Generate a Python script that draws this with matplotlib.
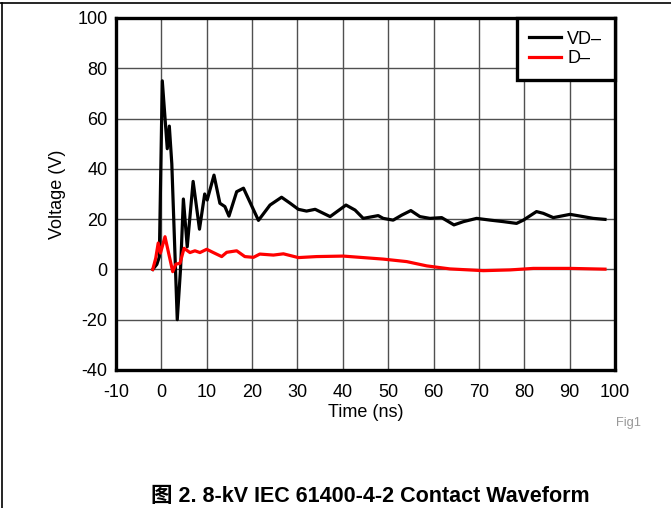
import numpy as np
import matplotlib.pyplot as plt
from matplotlib.lines import Line2D

plt.rcParams['font.family'] = ['Liberation Sans', 'Noto Sans CJK SC', 'DejaVu Sans']
plt.rcParams['axes.unicode_minus'] = False

# VD- trace (time in ns, voltage in V)
t_vd = [-1.9, -1.0, -0.45, 0.2, 1.3, 1.75, 2.3, 3.5, 4.25, 4.85, 5.7, 7.0, 8.4,
        9.55, 10.1, 11.6, 12.9, 14.0, 14.9, 16.6, 18.1, 21.4, 23.95, 26.5, 28.4,
        30.2, 32.0, 33.9, 37.2, 40.7, 42.7, 44.5, 47.8, 48.9, 51.1, 53.0, 55.0,
        57.0, 59.2, 61.8, 64.5, 66.6, 69.5, 72.5, 75.4, 78.3, 79.8, 82.7, 84.2,
        86.4, 90.1, 93.0, 95.2, 97.8]
v_vd = [0, 2, 5, 75, 48, 57, 42, -20, 1, 28, 9, 35, 16,
        30, 27.6, 37.5, 26.3, 25, 21.2, 30.9, 32.3, 19.5, 25.6, 28.7, 26.3,
        23.9, 23.2, 23.9, 21.0, 25.6, 23.6, 20.3, 21.4, 20.3, 19.6, 21.6, 23.4,
        21.0, 20.3, 20.6, 17.7, 19.0, 20.3, 19.6, 19.0, 18.3, 19.6, 23.0, 22.3,
        20.6, 21.9, 21.0, 20.3, 19.9]

# D- trace
t_d = [-1.9, -1.25, -0.7, -0.2, 0.8, 2.5, 3.2, 4.1, 5.0, 6.3, 7.4, 8.5, 10.0,
       11.45, 13.3, 14.4, 16.6, 18.4, 20.3, 21.7, 24.7, 26.9, 30.2, 34.2, 40.1,
       48.9, 54.1, 58.5, 63.6, 71.0, 76.9, 82.0, 90.1, 97.8]
v_d = [0, 4.4, 10.5, 6.5, 13, -0.9, 2.1, 2.4, 8.4, 6.7, 7.4, 6.7, 8.0,
       6.7, 5.1, 6.8, 7.4, 5.1, 4.8, 6.1, 5.7, 6.2, 4.7, 5.1, 5.3,
       4.1, 3.1, 1.4, 0.2, -0.5, -0.2, 0.4, 0.4, 0.1]

x_ticks = np.arange(-10, 101, 10)
y_ticks = np.arange(-40, 101, 20)

fig = plt.figure(figsize=(6.71, 5.08), dpi=100)
ax = fig.add_axes([0.1729, 0.2717, 0.7436, 0.6929])

ax.plot(t_vd, v_vd, color='black', lw=2.3, label='VD\u2013', zorder=3)
ax.plot(t_d, v_d, color='#ff0000', lw=2.3, label='D\u2013', zorder=3)

ax.set_xlim(-10, 100)
ax.set_ylim(-40, 100)
ax.set_xticks(x_ticks)
ax.set_yticks(y_ticks)
ax.tick_params(length=0, labelsize=13)
ax.tick_params(axis='x', pad=10)
ax.tick_params(axis='y', pad=6)
ax.grid(True, color='#505050', lw=1.0)
for s in ax.spines.values():
    s.set_linewidth(2.4)

ax.set_xlabel('Time (ns)', fontsize=13, labelpad=2)
ax.set_ylabel('Voltage (V)', fontsize=13, labelpad=8)

leg = ax.legend(loc='upper right', fontsize=13, frameon=True, fancybox=False,
                borderaxespad=0, handlelength=1.75, handletextpad=0.35,
                borderpad=0.7, labelspacing=0.15)
leg.get_frame().set_edgecolor('black')
leg.get_frame().set_linewidth(2.4)
leg.get_frame().set_alpha(1)

fig.text(0.937, 0.167, 'Fig1', fontsize=9.3, color='#999999', ha='center', va='center')
fig.text(0.552, 0.022, '\u56fe 2. 8-kV IEC 61400-4-2 Contact Waveform',
         fontsize=15.5, fontweight='bold', ha='center', va='center')

# page frame lines (top and left)
fig.add_artist(Line2D([0, 1], [0.9935, 0.9935], color='black', lw=1.2,
                      transform=fig.transFigure))
fig.add_artist(Line2D([0.0037, 0.0037], [0, 0.9935], color='black', lw=1.2,
                      transform=fig.transFigure))

fig.savefig('out.png', dpi=100)
